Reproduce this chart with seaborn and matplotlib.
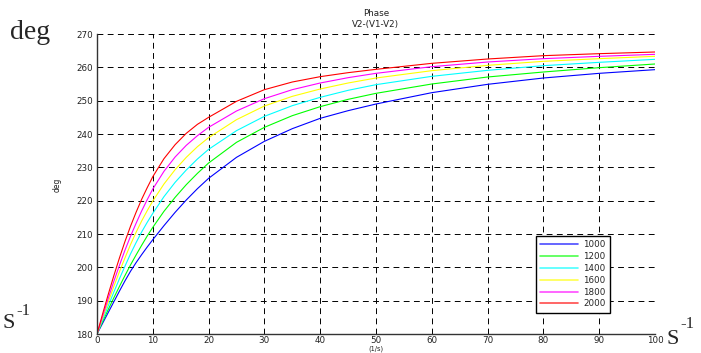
import numpy as np
import pandas as pd
import seaborn as sns
import matplotlib.pyplot as plt

# x axis (1/s)
x = [0, 1, 2, 3, 4, 5, 6, 7, 8, 9, 10, 12, 14, 16, 18, 20, 25, 30, 35, 40, 45, 50, 60, 70, 80, 90, 100]

# phase in degrees, one list per curve
ph_1000 = [180, 183.2, 186.4, 189.6, 192.8, 195.9, 198.8, 201.4, 203.8, 206.1, 208.3, 212.5, 216.5, 220.2, 223.6, 226.7,
           233.0, 237.8, 241.6, 244.7, 247.0, 249.0, 252.4, 254.9, 256.8, 258.2, 259.3]
ph_1200 = [180, 183.7, 187.3, 190.8, 194.2, 197.5, 200.7, 203.7, 206.6, 209.4, 212.0, 216.8, 221.0, 224.8, 228.2, 231.3,
           237.5, 242.0, 245.5, 248.2, 250.4, 252.2, 255.0, 257.1, 258.6, 259.9, 261.0]
ph_1400 = [180, 184.2, 188.4, 192.5, 196.5, 200.3, 204.0, 207.4, 210.6, 213.5, 216.2, 221.2, 225.5, 229.2, 232.5, 235.4,
           241.0, 245.3, 248.5, 251.0, 253.1, 254.8, 257.3, 259.1, 260.5, 261.5, 262.4]
ph_1600 = [180, 184.8, 189.5, 194.2, 198.6, 202.8, 206.8, 210.5, 213.9, 217.0, 219.9, 225.0, 229.3, 233.0, 236.2, 238.9,
           244.3, 248.4, 251.3, 253.5, 255.3, 256.8, 259.0, 260.6, 261.8, 262.6, 263.3]
ph_1800 = [180, 185.3, 190.6, 195.7, 200.5, 205.1, 209.3, 213.2, 216.9, 220.3, 223.5, 228.8, 233.1, 236.6, 239.5, 242.0,
           246.9, 250.6, 253.3, 255.3, 256.9, 258.2, 260.2, 261.6, 262.6, 263.3, 263.9]
ph_2000 = [180, 186.0, 191.8, 197.4, 202.7, 207.7, 212.3, 216.5, 220.4, 223.9, 227.2, 232.6, 236.8, 240.2, 242.9, 245.0,
           249.8, 253.3, 255.6, 257.2, 258.4, 259.4, 261.2, 262.5, 263.5, 264.1, 264.6]

labels = ['1000', '1200', '1400', '1600', '1800', '2000']
colors = ['#0000ff', '#00ff00', '#00ffff', '#ffff00', '#ff00ff', '#ff0000']

curves = [ph_1000, ph_1200, ph_1400, ph_1600, ph_1800, ph_2000]
df = pd.DataFrame({
    'x': x * len(curves),
    'phase': np.concatenate(curves),
    'freq': np.repeat(labels, len(x)),
})

sns.set_style('white')
plt.rcParams['font.family'] = ['DejaVu Sans']

fig = plt.figure(figsize=(7.01, 3.53), dpi=100)
ax = fig.add_axes([97 / 701, 1 - 334 / 353, 558 / 701, 300 / 353])

sns.lineplot(data=df, x='x', y='phase', hue='freq', palette=dict(zip(labels, colors)),
             linewidth=0.8, ax=ax)

ax.set_xlim(0, 100)
ax.set_ylim(180, 270)
ax.set_xticks(range(0, 101, 10))
ax.set_yticks(range(180, 271, 10))
ax.grid(True, color='black', linestyle=(0, (6, 4.5)), linewidth=0.7)
for s in ['top', 'right']:
    ax.spines[s].set_visible(False)
for s in ['left', 'bottom']:
    ax.spines[s].set_color('#333333')
    ax.spines[s].set_linewidth(1.0)
ax.tick_params(direction='in', length=3, labelsize=6.3, labelcolor='#222222', pad=3)
ax.tick_params(axis='x', pad=1.5)
ax.set_xlabel('')
ax.set_ylabel('')

# legend
handles, labs = ax.get_legend_handles_labels()
leg = ax.legend(handles, labs, loc='upper right', bbox_to_anchor=(513 / 558, 98 / 300),
                fontsize=6.3, handlelength=4.3, handletextpad=0.6, labelspacing=0.32,
                fancybox=False, framealpha=1, edgecolor='black', borderpad=0.5,
                borderaxespad=0)
leg.get_frame().set_linewidth(1.0)
for h in leg.get_lines():
    h.set_linewidth(1.2)
    h.set_alpha(0.7)

# titles and labels
fig.text(376 / 701, 1 - 14 / 353, 'Phase', ha='center', va='center', fontsize=6.3, color='#222222')
fig.text(376 / 701, 1 - 24 / 353, 'V2-(V1-V2)', ha='center', va='center', fontsize=6.3, color='#222222')
fig.text(57 / 701, 1 - 185 / 353, 'deg', ha='center', va='center', rotation=90, fontsize=5.5, color='#222222')
fig.text(376 / 701, 0.5 / 353, '(1/s)', ha='center', va='bottom', fontsize=4.8, color='#222222')

# big serif annotations
serif = 'Liberation Serif'
fig.text(10 / 701, 1 - 39 / 353, 'deg', fontsize=20, family=serif, va='baseline')
fig.text(3 / 701, 1 - 328 / 353, 'S', fontsize=16, family=serif, va='baseline')
fig.text(16 / 701, 1 - 315 / 353, '-1', fontsize=12, family=serif, va='baseline')
fig.text(667 / 701, 1 - 344 / 353, 'S', fontsize=16, family=serif, va='baseline')
fig.text(680 / 701, 1 - 328 / 353, '-1', fontsize=12, family=serif, va='baseline')

fig.savefig('out.png', dpi=100)
